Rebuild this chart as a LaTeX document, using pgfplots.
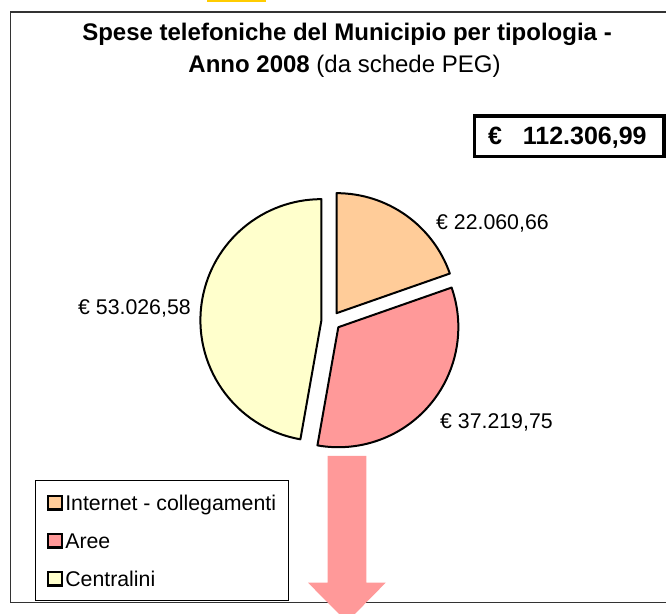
\documentclass[border=0pt]{standalone}
\usepackage{fontspec}
\setmainfont{Liberation Sans}
\usepackage{pgfplots}
\usepackage{pgfplotstable}
\pgfplotsset{compat=1.18}
\definecolor{pieA}{HTML}{FFCC99}
\definecolor{pieB}{HTML}{FF9999}
\definecolor{pieC}{HTML}{FFFFCC}
\definecolor{topbar}{HTML}{FFCC00}

% spese telefoniche 2008 (euro)
\pgfplotstableread{
tipologia value
Internet 22060.66
Aree 37219.75
Centralini 53026.58
}\spese

\pgfplotstablegetelem{0}{value}\of\spese \let\va\pgfplotsretval
\pgfplotstablegetelem{1}{value}\of\spese \let\vb\pgfplotsretval
\pgfplotstablegetelem{2}{value}\of\spese \let\vc\pgfplotsretval
\edef\tot{\fpeval{\va+\vb+\vc}}
\edef\aA{90}
\edef\aB{\fpeval{\aA-360*\va/\tot}}
\edef\aC{\fpeval{\aB-360*\vb/\tot}}
\edef\aD{\fpeval{\aC-360*\vc/\tot}}
\edef\mA{\fpeval{(\aA+\aB)/2}}
\edef\mB{\fpeval{(\aB+\aC)/2}}
\edef\mC{\fpeval{(\aC+\aD)/2}}

\newcommand{\lbl}{\fontsize{21.3bp}{25bp}\selectfont}

\begin{document}
\begin{tikzpicture}
\begin{axis}[
  name=ax,
  width=666bp, height=614bp, scale only axis,
  xmin=0, xmax=666, ymin=0, ymax=614,
  enlargelimits=false, hide axis, clip=false,
  legend image code/.code={\draw[#1,draw=black,line width=2.2bp] (0bp,-6.8bp) rectangle (13.6bp,6.8bp);},
  legend style={at={(axis cs:35,13)}, anchor=south west, draw=black, line width=0.8bp,
    fill=white, inner xsep=11.6bp, inner ysep=13.3bp, row sep=20.7bp, column sep=1.5bp,
    font=\lbl, nodes={inner sep=1bp, text height=15.3bp, text depth=0bp}},
  legend cell align=left,
]
% cornice del grafico
\draw[line width=1.3bp, black!80] (axis cs:10.5,602) rectangle (axis cs:700,11.3);
\fill[topbar] (axis cs:207,611.5) rectangle (axis cs:266,620);

% titolo
\node[anchor=base, inner sep=0pt, font=\fontsize{24bp}{28bp}\selectfont\bfseries]
  at (axis cs:347,573) {Spese telefoniche del Municipio per tipologia -};
\node[anchor=base, inner sep=0pt, font=\fontsize{24bp}{28bp}\selectfont]
  at (axis cs:344.5,541) {\textbf{Anno 2008} (da schede PEG)};

% totale
\draw[line width=3.6bp] (axis cs:474.5,498.2) rectangle (axis cs:663.7,457.3);
\node[anchor=base west, inner sep=0pt, font=\fontsize{25bp}{28bp}\selectfont\bfseries]
  at (axis cs:488,469) {€\hspace{20.8bp}112.306,99};

% torta esplosa
\draw[fill=pieA, line width=2bp, line join=round] (axis cs:331,293) ++(\mA:9.6bp)
  -- ++(\aA:120bp) arc[start angle=\aA, end angle=\aB, radius=120bp] -- cycle;
\draw[fill=pieB, line width=2bp, line join=round] (axis cs:331,293) ++(\mB:9.6bp)
  -- ++(\aB:120bp) arc[start angle=\aB, end angle=\aC, radius=120bp] -- cycle;
\draw[fill=pieC, line width=2bp, line join=round] (axis cs:331,293) ++(\mC:9.6bp)
  -- ++(\aC:121bp) arc[start angle=\aC, end angle=\aD, radius=121bp] -- cycle;

% etichette
\node[anchor=base west, inner sep=0pt, font=\lbl] at (axis cs:436,384.4) {€ 22.060,66};
\node[anchor=base west, inner sep=0pt, font=\lbl] at (axis cs:440,185.4) {€ 37.219,75};
\node[anchor=base west, inner sep=0pt, font=\lbl] at (axis cs:78,299.4) {€ 53.026,58};

% freccia
\fill[pieB] (axis cs:327.7,158) -- (axis cs:366.3,158) -- (axis cs:366.3,31.3)
  -- (axis cs:385.7,31.3) -- (axis cs:347,-8) -- (axis cs:308,31.3)
  -- (axis cs:327.7,31.3) -- cycle;

\addlegendimage{fill=pieA}
\addlegendentry{Internet - collegamenti}
\addlegendimage{fill=pieB}
\addlegendentry{Aree}
\addlegendimage{fill=pieC}
\addlegendentry{Centralini}
\end{axis}
\pgfresetboundingbox
\path (ax.south west) rectangle (ax.north east);
\end{tikzpicture}
\end{document}
